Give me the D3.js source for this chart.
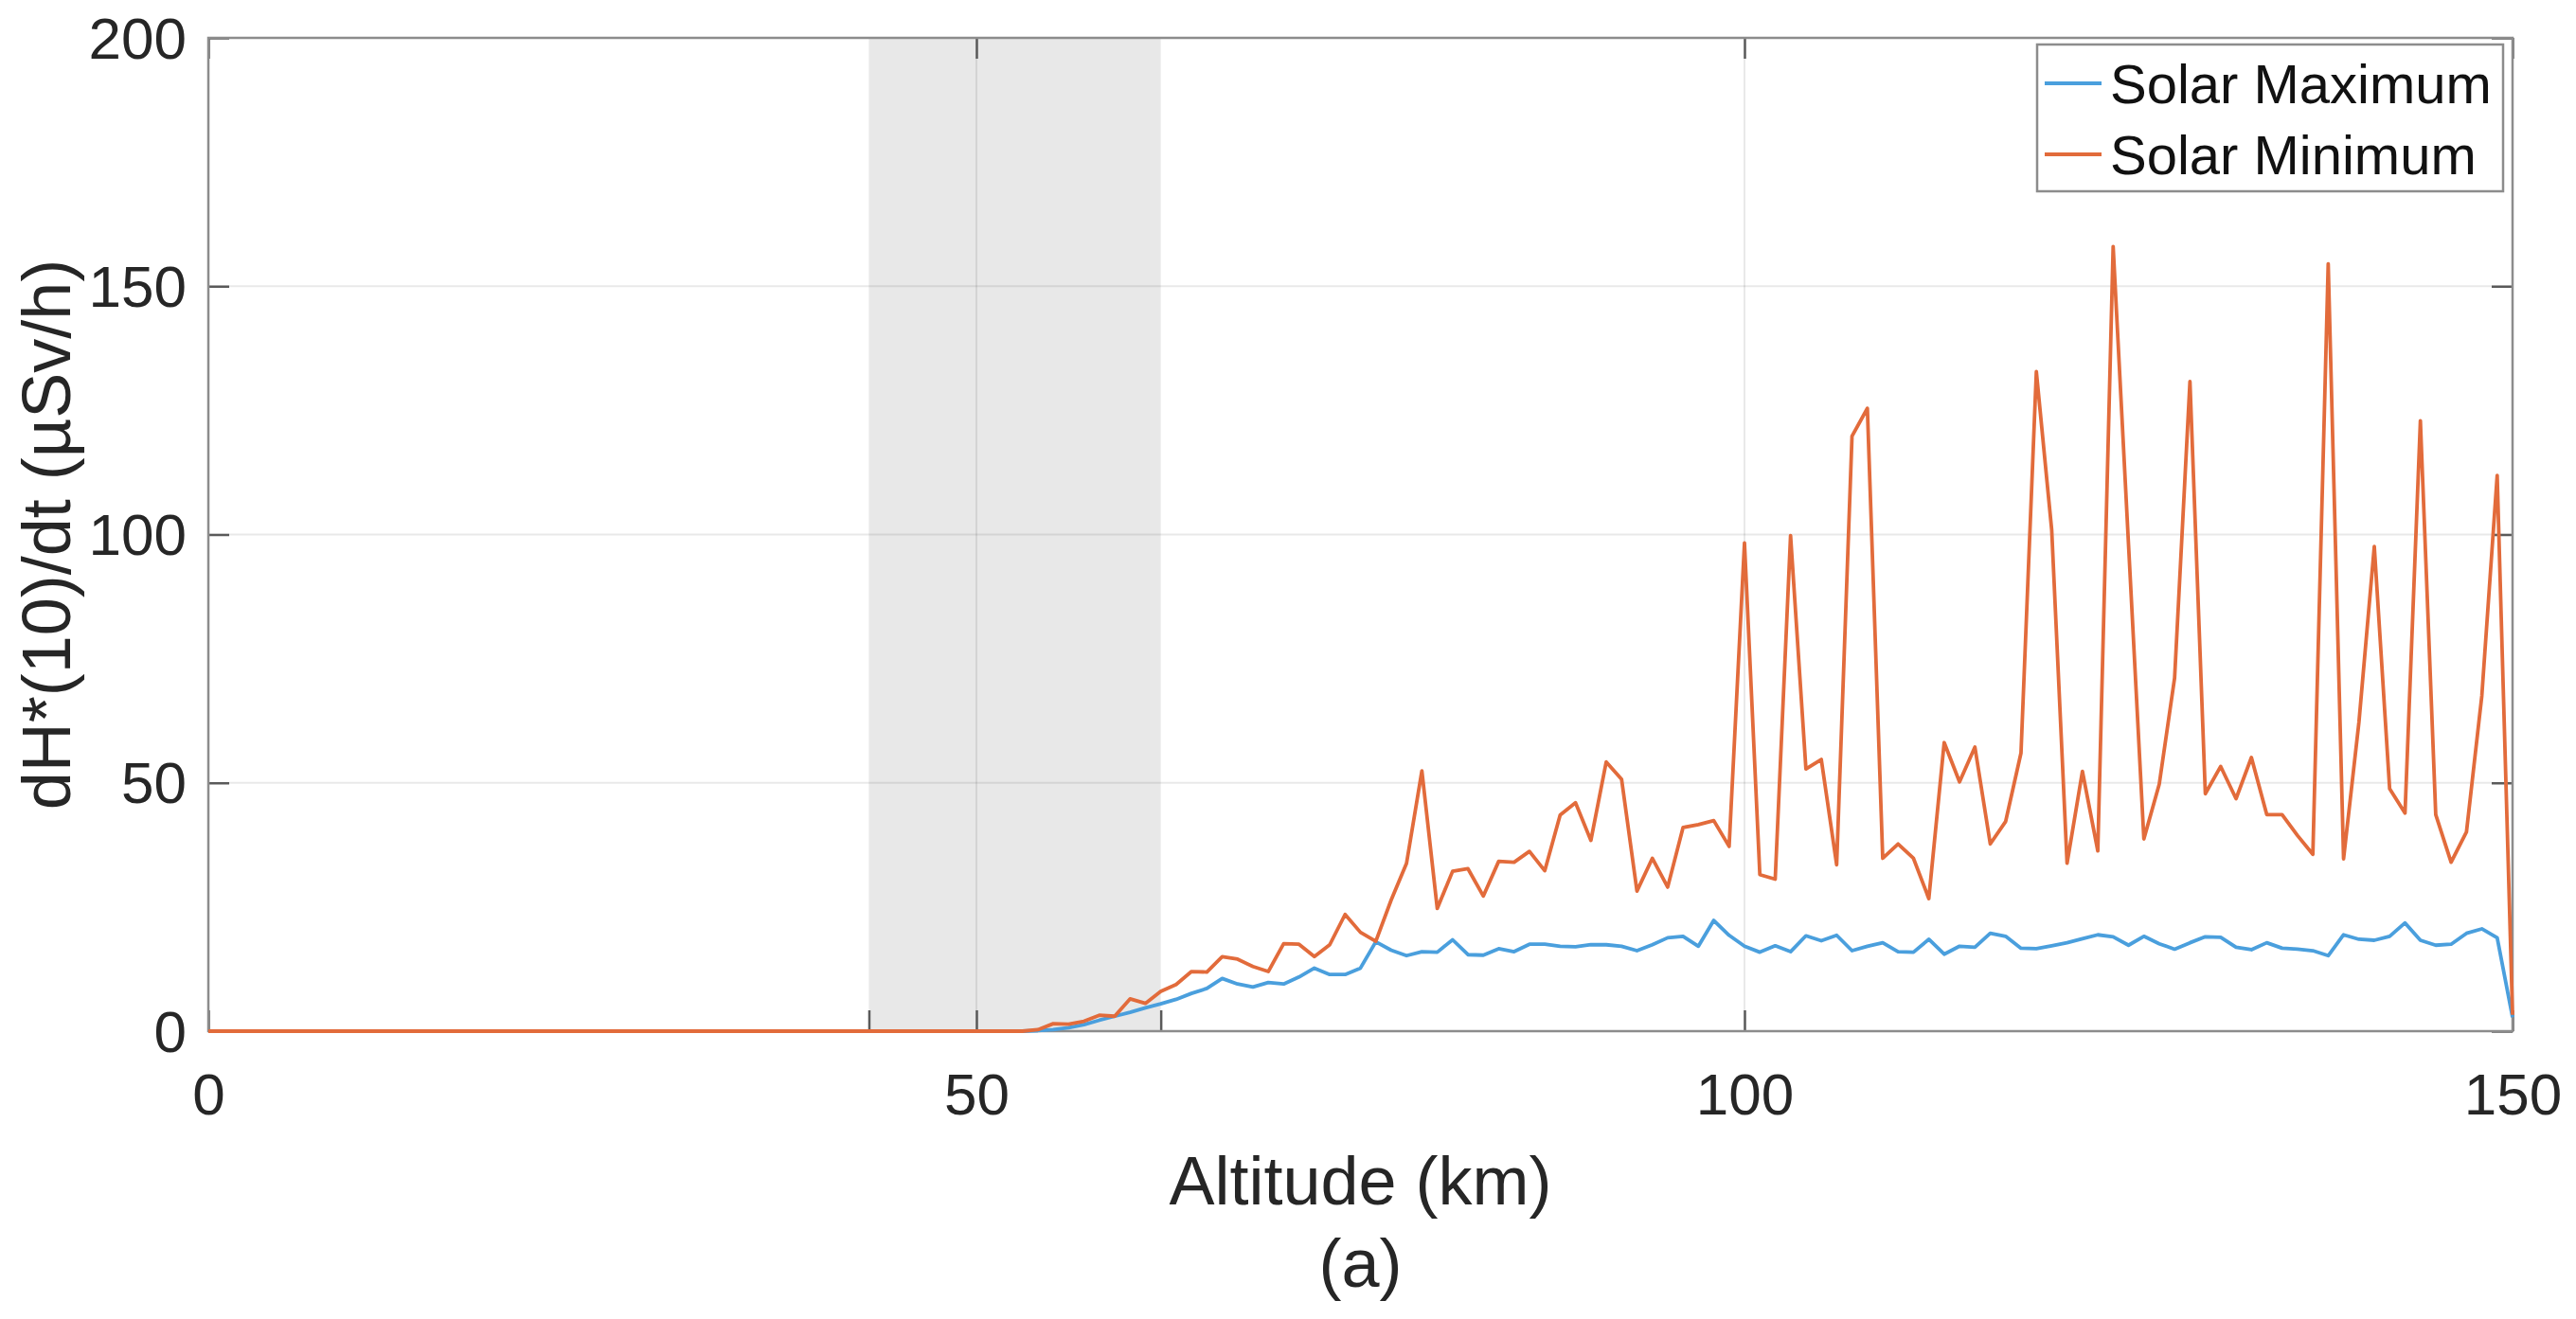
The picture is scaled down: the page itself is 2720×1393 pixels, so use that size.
<!DOCTYPE html>
<html>
<head>
<meta charset="utf-8">
<script src="https://cdn.jsdelivr.net/npm/d3@7"></script>
<style>
  html, body { margin: 0; padding: 0; background: #ffffff; }
  svg { display: block; }
  text { font-family: "Liberation Sans", Arial, Helvetica, sans-serif; }
</style>
</head>
<body>
<script>
// ---------------- data ----------------
const altitude = [
  0,1,2,3,4,5,6,7,8,9,10,11,12,13,14,15,16,17,18,19,20,21,22,23,24,25,26,27,28,29,
  30,31,32,33,34,35,36,37,38,39,40,41,42,43,44,45,46,47,48,49,50,51,52,53,54,55,56,57,58,59,
  60,61,62,63,64,65,66,67,68,69,70,71,72,73,74,75,76,77,78,79,80,81,82,83,84,85,86,87,88,89,
  90,91,92,93,94,95,96,97,98,99,100,101,102,103,104,105,106,107,108,109,110,111,112,113,114,115,116,117,118,119,
  120,121,122,123,124,125,126,127,128,129,130,131,132,133,134,135,136,137,138,139,140,141,142,143,144,145,146,147,148,149,150
];

const solarMaximum = [
  0,0,0,0,0,0,0,0,0,0, 0,0,0,0,0,0,0,0,0,0, 0,0,0,0,0,0,0,0,0,0,
  0,0,0,0,0,0,0,0,0,0, 0,0,0,0,0,0,0,0,0,0, 0,0,0,0,
  0.1,0.3,0.7,1.3,2.2,3.0,
  3.8,4.7,5.5,6.4,7.6,8.6,10.6,9.5,8.9,9.8,
  9.5,10.9,12.7,11.4,11.4,12.7,18.0,16.3,15.2,16.0,
  15.9,18.4,15.4,15.3,16.6,16.0,17.5,17.5,17.1,17.0,
  17.4,17.4,17.1,16.2,17.4,18.8,19.1,17.1,22.3,19.3,
  17.1,15.9,17.2,16.0,19.2,18.2,19.3,16.2,17.1,17.8,
  16.0,15.9,18.5,15.5,17.1,16.9,19.7,19.1,16.7,16.6,
  17.2,17.8,18.6,19.4,19.0,17.3,19.1,17.6,16.5,17.8,
  19.0,18.9,16.9,16.4,17.8,16.7,16.5,16.2,15.2,19.4,
  18.5,18.3,19.1,21.8,18.3,17.3,17.5,19.7,20.6,18.8,
  2.8
];

const solarMinimum = [
  0,0,0,0,0,0,0,0,0,0, 0,0,0,0,0,0,0,0,0,0, 0,0,0,0,0,0,0,0,0,0,
  0,0,0,0,0,0,0,0,0,0, 0,0,0,0,0,0,0,0,0,0, 0,0,0,0,
  0.3,1.5,1.4,2.0,3.2,3.0,
  6.5,5.6,8.0,9.4,12.0,11.9,15.0,14.5,13.0,12.0,
  17.6,17.5,15.0,17.4,23.5,19.9,18.1,26.4,33.8,52.4,
  24.7,32.2,32.7,27.2,34.2,34.0,36.2,32.3,43.5,46.0,
  38.4,54.2,50.7,28.2,34.8,29.0,41.0,41.6,42.4,37.2,
  98.3,31.5,30.6,99.8,52.8,54.7,33.5,119.8,125.4,34.8,
  37.7,34.8,26.7,58.1,50.2,57.2,37.7,42.2,56.0,132.8,
  100.9,33.8,52.3,36.3,158.0,98.0,38.7,49.7,71.1,130.8,
  47.8,53.3,46.8,55.1,43.6,43.6,39.4,35.6,154.5,34.7,
  62.2,97.6,48.8,43.9,122.9,43.6,34.0,40.1,67.5,111.9,
  3.3
];

const seriesNames = ["Solar Maximum", "Solar Minimum"];
const seriesColors = ["#4a9fdd", "#e26b3b"];
const xTicks = [0, 50, 100, 150];
const yTicks = [0, 50, 100, 150, 200];
const shadedBand = [43, 62];
const xLabel = "Altitude (km)";
const yLabel = "dH*(10)/dt (µSv/h)";
const caption = "(a)";

// ---------------- layout ----------------
const W = 2720, H = 1393;
const plot = { left: 220, right: 2653, top: 40, bottom: 1089 };

const svg = d3.select("body").append("svg")
  .attr("width", W).attr("height", H)
  .attr("viewBox", `0 0 ${W} ${H}`);

svg.append("rect").attr("width", W).attr("height", H).attr("fill", "#ffffff");

const x = d3.scaleLinear().domain([0, 150]).range([plot.left, plot.right]);
const y = d3.scaleLinear().domain([0, 200]).range([plot.bottom, plot.top]);

// shaded band
svg.append("rect")
  .attr("x", x(shadedBand[0]))
  .attr("y", plot.top)
  .attr("width", x(shadedBand[1]) - x(shadedBand[0]))
  .attr("height", plot.bottom - plot.top)
  .attr("fill", "#e8e8e8");

// grid lines
const grid = svg.append("g").attr("stroke", "rgba(0,0,0,0.085)").attr("stroke-width", 2);
xTicks.slice(1, -1).forEach(v => {
  grid.append("line").attr("x1", x(v)).attr("x2", x(v)).attr("y1", plot.top).attr("y2", plot.bottom);
});
yTicks.slice(1, -1).forEach(v => {
  grid.append("line").attr("y1", y(v)).attr("y2", y(v)).attr("x1", plot.left).attr("x2", plot.right);
});

// axes
const tickLen = 22;
const fontTick = 62;

const xAxis = svg.append("g")
  .attr("transform", `translate(0,${plot.bottom})`)
  .call(d3.axisBottom(x).tickValues(xTicks).tickFormat(d3.format("d")).tickSize(-tickLen).tickPadding(44));
const xAxisTop = svg.append("g")
  .attr("transform", `translate(0,${plot.top})`)
  .call(d3.axisTop(x).tickValues(xTicks).tickFormat("").tickSize(-tickLen));
const yAxis = svg.append("g")
  .attr("transform", `translate(${plot.left},0)`)
  .call(d3.axisLeft(y).tickValues(yTicks).tickFormat(d3.format("d")).tickSize(-tickLen).tickPadding(23));
const yAxisRight = svg.append("g")
  .attr("transform", `translate(${plot.right},0)`)
  .call(d3.axisRight(y).tickValues(yTicks).tickFormat("").tickSize(-tickLen));
// extra ticks at shaded band edges
const bandTicks = svg.append("g")
  .attr("transform", `translate(0,${plot.bottom})`)
  .call(d3.axisBottom(x).tickValues(shadedBand).tickFormat("").tickSize(-tickLen));

[xAxis, xAxisTop, yAxis, yAxisRight, bandTicks].forEach(g => {
  g.select(".domain").remove();
  g.selectAll(".tick line").attr("stroke", "#5a5a5a").attr("stroke-width", 2.5);
  g.selectAll(".tick text")
    .attr("fill", "#262626")
    .attr("font-size", fontTick)
    .attr("font-family", "'Liberation Sans', Arial, Helvetica, sans-serif");
});
yAxis.selectAll(".tick text").attr("dy", "0.34em");

// box
svg.append("rect")
  .attr("x", plot.left).attr("y", plot.top)
  .attr("width", plot.right - plot.left).attr("height", plot.bottom - plot.top)
  .attr("fill", "none").attr("stroke", "#8c8c8c").attr("stroke-width", 2.5);

// lines
const seriesData = [solarMaximum, solarMinimum];
const lineGen = vals => d3.line()
  .x((d, i) => x(altitude[i]))
  .y(d => y(d))(vals);

seriesData.forEach((vals, i) => {
  svg.append("path")
    .attr("d", lineGen(vals))
    .attr("fill", "none")
    .attr("stroke", seriesColors[i])
    .attr("stroke-width", 3.8)
    .attr("stroke-linejoin", "round");
});

// labels
svg.append("text")
  .attr("x", (plot.left + plot.right) / 2).attr("y", 1272)
  .attr("text-anchor", "middle").attr("font-size", 72).attr("fill", "#262626")
  .text(xLabel);
svg.append("text")
  .attr("x", (plot.left + plot.right) / 2).attr("y", 1359)
  .attr("text-anchor", "middle").attr("font-size", 72).attr("fill", "#262626")
  .text(caption);
svg.append("text")
  .attr("transform", `translate(74,${(plot.top + plot.bottom) / 2}) rotate(-90)`)
  .attr("text-anchor", "middle").attr("font-size", 72).attr("fill", "#262626")
  .text(yLabel);

// legend
const legend = svg.append("g");
legend.append("rect")
  .attr("x", 2151).attr("y", 47).attr("width", 492).attr("height", 155)
  .attr("fill", "#ffffff").attr("stroke", "#8c8c8c").attr("stroke-width", 2.5);
seriesNames.forEach((name, i) => {
  const cy = 88 + i * 75;
  legend.append("line")
    .attr("x1", 2159).attr("x2", 2219).attr("y1", cy).attr("y2", cy)
    .attr("stroke", seriesColors[i]).attr("stroke-width", 3.8);
  legend.append("text")
    .attr("x", 2228).attr("y", cy + 21)
    .attr("font-size", 58).attr("fill", "#111111")
    .text(name);
});
</script>
</body>
</html>
